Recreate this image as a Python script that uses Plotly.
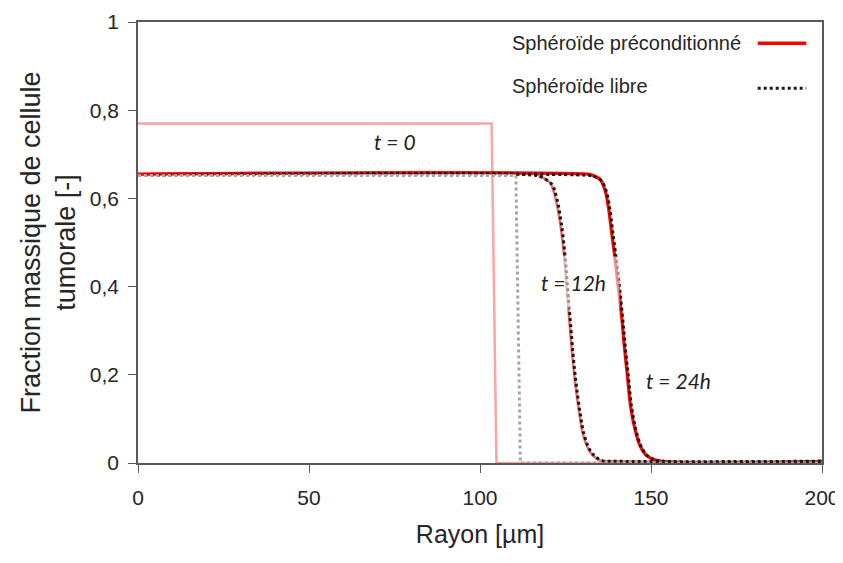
import plotly.graph_objects as go

# t = 0 (light pink: preconditioned, grey dotted: free)
x_pre_t0 = [0, 103.4, 104.8, 200]
y_pre_t0 = [0.77, 0.77, 0.0, 0.0]
x_lib_t0 = [0, 110.5, 111.8, 200]
y_lib_t0 = [0.652, 0.652, 0.0, 0.0]

# t = 12h
x_pre_t12 = [0, 116, 117.5, 120.5, 121.9, 123.4, 124.6, 125.3, 126.1, 126.9, 127.8, 129.0, 130.2, 132.2, 135.1, 140, 200]
y_pre_t12 = [0.655, 0.655, 0.651, 0.635, 0.605, 0.545, 0.469, 0.401, 0.326, 0.251, 0.183, 0.115, 0.062, 0.025, 0.006, 0.004, 0.004]
x_lib_t12 = [0, 116.5, 118.0, 121.0, 122.4, 123.8, 124.9, 125.6, 126.4, 127.2, 128.1, 129.3, 130.6, 132.6, 135.5, 140, 200]
y_lib_t12 = [0.652, 0.652, 0.648, 0.632, 0.602, 0.542, 0.466, 0.398, 0.323, 0.248, 0.18, 0.112, 0.06, 0.024, 0.006, 0.004, 0.004]

# t = 24h
x_pre_t24 = [0, 131.5, 132.7, 135.1, 136.5, 137.5, 138.5, 139.5, 140.4, 141.4, 142.2, 143.1, 144.0, 145.3, 146.8, 148.7, 151.6, 200]
y_pre_t24 = [0.655, 0.655, 0.653, 0.643, 0.62, 0.582, 0.522, 0.462, 0.401, 0.333, 0.265, 0.198, 0.13, 0.077, 0.039, 0.017, 0.006, 0.004]
x_lib_t24 = [0, 132.0, 133.2, 135.5, 136.9, 137.9, 138.9, 139.9, 140.8, 141.7, 142.5, 143.4, 144.3, 145.6, 147.1, 149.0, 151.9, 200]
y_lib_t24 = [0.652, 0.652, 0.65, 0.64, 0.617, 0.579, 0.519, 0.459, 0.398, 0.33, 0.262, 0.195, 0.128, 0.075, 0.038, 0.016, 0.006, 0.004]

x_ticks = [0, 50, 100, 150, 200]
y_ticks = [0, 0.2, 0.4, 0.6, 0.8, 1]

txt_font = "Liberation Sans, Arial, sans-serif"
axis_col = "#595959"
txt_col = "#262626"

fig = go.Figure()
fig.add_trace(go.Scatter(x=x_pre_t0, y=y_pre_t0, mode="lines",
                         line=dict(color="#FFA3A3", width=2.5), showlegend=False))
fig.add_trace(go.Scatter(x=x_pre_t12, y=y_pre_t12, mode="lines",
                         line=dict(color="#F06A6A", width=2.5, shape="spline"), showlegend=False))
fig.add_trace(go.Scatter(x=x_pre_t24, y=y_pre_t24, mode="lines",
                         line=dict(color="#FF0000", width=3.2, shape="spline"), showlegend=False))
fig.add_trace(go.Scatter(x=x_lib_t12, y=y_lib_t12, mode="lines",
                         line=dict(color="#1A1A1A", width=3, dash="dot", shape="spline"), showlegend=False))
fig.add_trace(go.Scatter(x=x_lib_t24, y=y_lib_t24, mode="lines",
                         line=dict(color="#1A1A1A", width=3, dash="dot", shape="spline"), showlegend=False))
fig.add_trace(go.Scatter(x=x_lib_t0, y=y_lib_t0, mode="lines",
                         line=dict(color="#A6A6A6", width=3, dash="dot"), showlegend=False))

# time labels
lab_font = dict(family="Lato, Open Sans, sans-serif", size=21, color="#222222", style="italic")
fig.add_annotation(x=75, y=0.729, text="t = 0", showarrow=False, font=lab_font)
fig.add_annotation(x=127.3, y=0.41, text="t = 12h", showarrow=False, font=lab_font,
                   bgcolor="rgba(255,255,255,0.55)", borderpad=13)
fig.add_annotation(x=158, y=0.186, text="t = 24h", showarrow=False, font=lab_font)

# legend drawn by hand (sample line to the right of the text)
leg_font = dict(family=txt_font, size=20, color=txt_col)
fig.add_annotation(xref="paper", yref="paper", x=0.544, y=0.952, xanchor="left", yanchor="middle",
                   text="Sphéroïde préconditionné", showarrow=False, font=leg_font)
fig.add_annotation(xref="paper", yref="paper", x=0.544, y=0.855, xanchor="left", yanchor="middle",
                   text="Sphéroïde libre", showarrow=False, font=leg_font)
fig.add_shape(type="line", xref="paper", yref="paper", x0=0.906, x1=0.977, y0=0.952, y1=0.952,
              line=dict(color="#FF0000", width=3.5))
fig.add_shape(type="line", xref="paper", yref="paper", x0=0.906, x1=0.977, y0=0.85, y1=0.85,
              line=dict(color="#1A1A1A", width=3, dash="dot"))

fig.update_xaxes(range=[0, 200], tickvals=x_ticks, showgrid=False, zeroline=False,
                 showline=True, linecolor=axis_col, linewidth=1.5, mirror=True,
                 ticks="outside", ticklen=8, tickcolor=axis_col, automargin=False,
                 ticklabelstandoff=7,
                 tickfont=dict(family=txt_font, size=21, color=txt_col),
                 title=dict(text="Rayon [µm]", font=dict(family=txt_font, size=25, color=txt_col), standoff=18))
fig.update_yaxes(range=[0, 1], tickvals=y_ticks, showgrid=False, zeroline=False,
                 showline=True, linecolor=axis_col, linewidth=1.5, mirror=True,
                 ticks="outside", ticklen=8, tickcolor=axis_col, automargin=False,
                 ticklabelstandoff=5,
                 tickfont=dict(family=txt_font, size=21, color=txt_col),
                 title=dict(text="Fraction massique de cellule<br>tumorale [-]",
                            font=dict(family=txt_font, size=27, color=txt_col), standoff=6))
# page body has an 8px margin, so the figure is sized and offset for it
fig.update_layout(width=835, height=555, margin=dict(l=130, r=21, t=14, b=100),
                  plot_bgcolor="white", paper_bgcolor="white", separators=", ")
fig.write_html("out.html")
